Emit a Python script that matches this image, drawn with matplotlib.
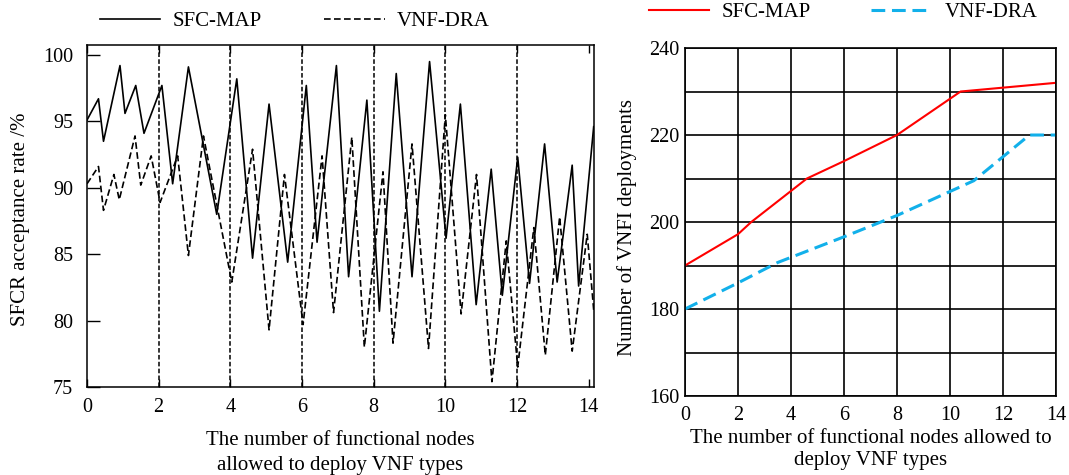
import matplotlib
matplotlib.use("Agg")
import matplotlib.pyplot as plt

plt.rcParams['font.family'] = ['Liberation Serif', 'DejaVu Serif']

# left panel: SFCR acceptance rate
sfc_x = [0, 0.32, 0.46, 0.92, 1.06, 1.36, 1.59, 2.09, 2.39, 2.83, 3.62, 4.18, 4.62,
         5.08, 5.6, 6.12, 6.42, 6.96, 7.3, 7.81, 8.16, 8.63, 9.07, 9.56, 10.02,
         10.42, 10.86, 11.28, 11.59, 12.02, 12.35, 12.77, 13.12, 13.54, 13.72, 14.14]
sfc_y = [95.1, 96.7, 93.5, 99.2, 95.6, 97.7, 94.1, 97.7, 90.3, 99.1, 88.0, 98.2, 84.7,
         96.3, 84.4, 97.7, 85.9, 99.2, 83.3, 96.6, 80.7, 98.6, 83.3, 99.5, 86.2,
         96.3, 81.2, 91.4, 81.9, 92.3, 82.8, 93.3, 82.9, 91.7, 82.6, 94.6]

dra_x = [0, 0.32, 0.46, 0.75, 0.9, 1.34, 1.5, 1.79, 2.04, 2.53, 2.83, 3.25, 4.04,
         4.62, 5.08, 5.51, 6.03, 6.56, 6.88, 7.39, 7.74, 8.26, 8.54, 9.07, 9.53,
         10.0, 10.44, 10.87, 11.3, 11.7, 12.02, 12.47, 12.79, 13.19, 13.54, 13.96, 14.14]
dra_y = [90.3, 91.6, 88.3, 91.0, 89.1, 93.9, 90.2, 92.4, 88.9, 92.4, 84.9, 93.9, 82.9,
         92.9, 79.3, 91.0, 79.7, 92.4, 80.6, 93.8, 78.0, 91.2, 78.3, 93.3, 77.9,
         95.5, 80.5, 91.0, 75.4, 86.0, 76.5, 87.0, 77.4, 87.8, 77.7, 86.5, 80.8]

# right panel: number of VNFI deployments
map_x = [0, 2, 2.5, 4.6, 6, 8, 10.4, 14]
map_y = [190, 197.2, 200, 210, 214, 220, 230, 232]
drb_x = [0, 2, 3.5, 6, 8, 10.9, 13, 14]
drb_y = [180, 186, 190.7, 196.6, 201.5, 209.5, 220, 220]

xticks = [0, 2, 4, 6, 8, 10, 12, 14]

fig = plt.figure(figsize=(10.69, 4.75), dpi=100)

# ---- left ----
ax1 = fig.add_axes([0.0814, 0.1853, 0.4743, 0.72])
ax1.plot(sfc_x, sfc_y, color='black', lw=1.2, label='SFC-MAP')
ax1.plot(dra_x, dra_y, color='black', lw=1.2, ls=(0, (4, 2)), label='VNF-DRA')
for xv in xticks[1:-1]:
    ax1.axvline(xv, color='black', lw=1.1, ls=(0, (3, 1.5)))
ax1.set_xlim(0, 14.15)
ax1.set_ylim(75, 100.75)
ax1.set_xticks(xticks)
ax1.set_yticks([75, 80, 85, 90, 95, 100])
ax1.tick_params(axis='x', direction='in', top=True, length=6, width=1, labelsize=14.5, pad=8)
ax1.tick_params(axis='y', direction='in', length=9, width=1, labelsize=14.5, pad=10)
for s in ax1.spines.values():
    s.set_linewidth(1.1)
ax1.set_ylabel('SFCR acceptance rate /%', fontsize=15)
ax1.yaxis.set_label_coords(-0.112, 0.49)
ax1.set_xlabel('The number of functional nodes\nallowed to deploy VNF types', fontsize=15,
               linespacing=1.4)
ax1.xaxis.set_label_coords(0.5, -0.13)
ax1.legend(loc='center', bbox_to_anchor=(0.41, 1.07), ncol=2, frameon=False, fontsize=15,
           handlelength=2.9, handletextpad=0.6, columnspacing=3.0)

# ---- right ----
ax2 = fig.add_axes([0.6408, 0.1663, 0.347, 0.7326])
ax2.plot(map_x, map_y, color='#ff0000', lw=1.5, label='SFC-MAP')
ax2.plot(drb_x, drb_y, color='#12b0ea', lw=2.2, ls=(0, (4.5, 2.2)), label='VNF-DRA')
ax2.set_xlim(0, 14)
ax2.set_ylim(160, 240)
ax2.set_xticks(xticks)
ax2.set_yticks([160, 180, 200, 220, 240])
ax2.set_yticks(range(170, 240, 20), minor=True)
ax2.grid(which='both', color='black', lw=1.2)
ax2.tick_params(which='both', length=0, labelsize=14.5)
ax2.tick_params(axis='x', pad=7)
ax2.tick_params(axis='y', pad=4)
for s in ax2.spines.values():
    s.set_linewidth(1.2)
ax2.set_ylabel('Number of VNFI deployments', fontsize=15)
ax2.yaxis.set_label_coords(-0.13, 0.483)
ax2.set_xlabel('The number of functional nodes allowed to\ndeploy VNF types', fontsize=15,
               linespacing=1.2)
ax2.xaxis.set_label_coords(0.5, -0.095)
ax2.legend(loc='center', bbox_to_anchor=(0.426, 1.103), ncol=2, frameon=False, fontsize=15,
           handlelength=2.9, handletextpad=0.6, columnspacing=2.9)

fig.savefig('out.png', dpi=100)
